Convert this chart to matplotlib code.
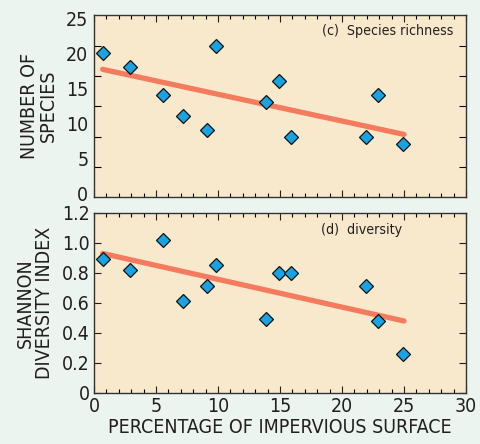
import numpy as np
import matplotlib
matplotlib.use("Agg")
import matplotlib.pyplot as plt

# --- data ---
impervious = [0.7, 2.9, 5.6, 7.2, 9.1, 9.8, 13.9, 14.9, 15.9, 21.9, 22.9, 24.9]
richness = [20, 18, 14, 11, 9, 21, 13, 16, 8, 8, 14, 7]
diversity = [0.89, 0.82, 1.02, 0.61, 0.71, 0.85, 0.49, 0.80, 0.80, 0.71, 0.48, 0.26]

trend_x = [0.7, 25]
trend_richness = [17.7, 8.4]
trend_diversity = [0.93, 0.48]

richness_ticks = [0, 5, 10, 15, 20, 25]
diversity_ticks = [0, 0.2, 0.4, 0.6, 0.8, 1.0, 1.2]
diversity_labels = ["0", "0.2", "0.4", "0.6", "0.8", "1.0", "1.2"]
x_ticks = [0, 5, 10, 15, 20, 25, 30]

# --- style ---
plt.rcParams['font.family'] = ['DejaVu Sans']
plt.rcParams['font.stretch'] = 'condensed'
FIG_BG = "#EBF4EE"
AX_BG = "#F9E9CC"
MARKER = "#1AA3E2"
LINE = "#F47B5E"
TXT = "#231F20"

fig = plt.figure(figsize=(4.81, 4.44), dpi=100, facecolor=FIG_BG)
ax_c = fig.add_axes([0.1954, 0.5563, 0.7734, 0.4088], facecolor=AX_BG)
ax_d = fig.add_axes([0.1954, 0.1149, 0.7734, 0.4054], facecolor=AX_BG)


def style_axes(ax):
    for s in ax.spines.values():
        s.set_linewidth(1.0)
        s.set_color("#333333")
    ax.set_xlim(0, 30)
    ax.set_xticks(x_ticks)
    ax.set_xticks(np.arange(0, 31, 1), minor=True)
    ax.tick_params(axis='x', which='major', direction='in', length=5, width=0.8,
                   top=True, bottom=True, labelsize=14, colors=TXT, pad=3)
    ax.tick_params(axis='x', which='minor', direction='in', length=3, width=0.8,
                   top=True, bottom=True)


# --- (c) species richness ---
ax = ax_c
style_axes(ax)
ax.plot(trend_x, trend_richness, color=LINE, lw=3.8, solid_capstyle='round', zorder=2)
ax.plot(impervious, richness, 'D', ms=6.8, mfc=MARKER, mec='#111111', mew=0.9, zorder=3)
ax.set_ylim(-0.55, 25.4)
ax.set_yticks(richness_ticks)
ax.tick_params(axis='y', which='major', length=0, labelsize=14, colors=TXT, pad=4)
lo, hi = ax.get_ylim()
ax.set_yticks(np.linspace(lo, hi, 7)[1:-1], minor=True)
ax.tick_params(axis='y', which='minor', direction='in', length=5, width=0.8,
               left=True, right=True)
ax.tick_params(axis='x', labelbottom=False)
ax.set_ylabel("NUMBER OF\nSPECIES", fontsize=14, color=TXT, linespacing=1.0, labelpad=6)
ax.text(0.612, 0.915, "(c)  Species richness", transform=ax.transAxes, fontsize=10.2,
        color=TXT, ha='left', va='center')

# --- (d) diversity ---
ax = ax_d
style_axes(ax)
ax.plot(trend_x, trend_diversity, color=LINE, lw=3.8, solid_capstyle='round', zorder=2)
ax.plot(impervious, diversity, 'D', ms=6.8, mfc=MARKER, mec='#111111', mew=0.9, zorder=3)
ax.set_ylim(0, 1.2)
ax.set_yticks(diversity_ticks)
ax.set_yticklabels(diversity_labels)
ax.tick_params(axis='y', which='major', direction='in', length=5, width=0.8,
               left=True, right=True, labelsize=14, colors=TXT, pad=3)
ax.set_ylabel("SHANNON\nDIVERSITY INDEX", fontsize=14, color=TXT, linespacing=1.0, labelpad=6)
ax.set_xlabel("PERCENTAGE OF IMPERVIOUS SURFACE", fontsize=14, color=TXT, labelpad=1)
ax.text(0.610, 0.905, "(d)  diversity", transform=ax.transAxes, fontsize=10.2,
        color=TXT, ha='left', va='center')

fig.savefig("out.png", dpi=100, facecolor=FIG_BG)
